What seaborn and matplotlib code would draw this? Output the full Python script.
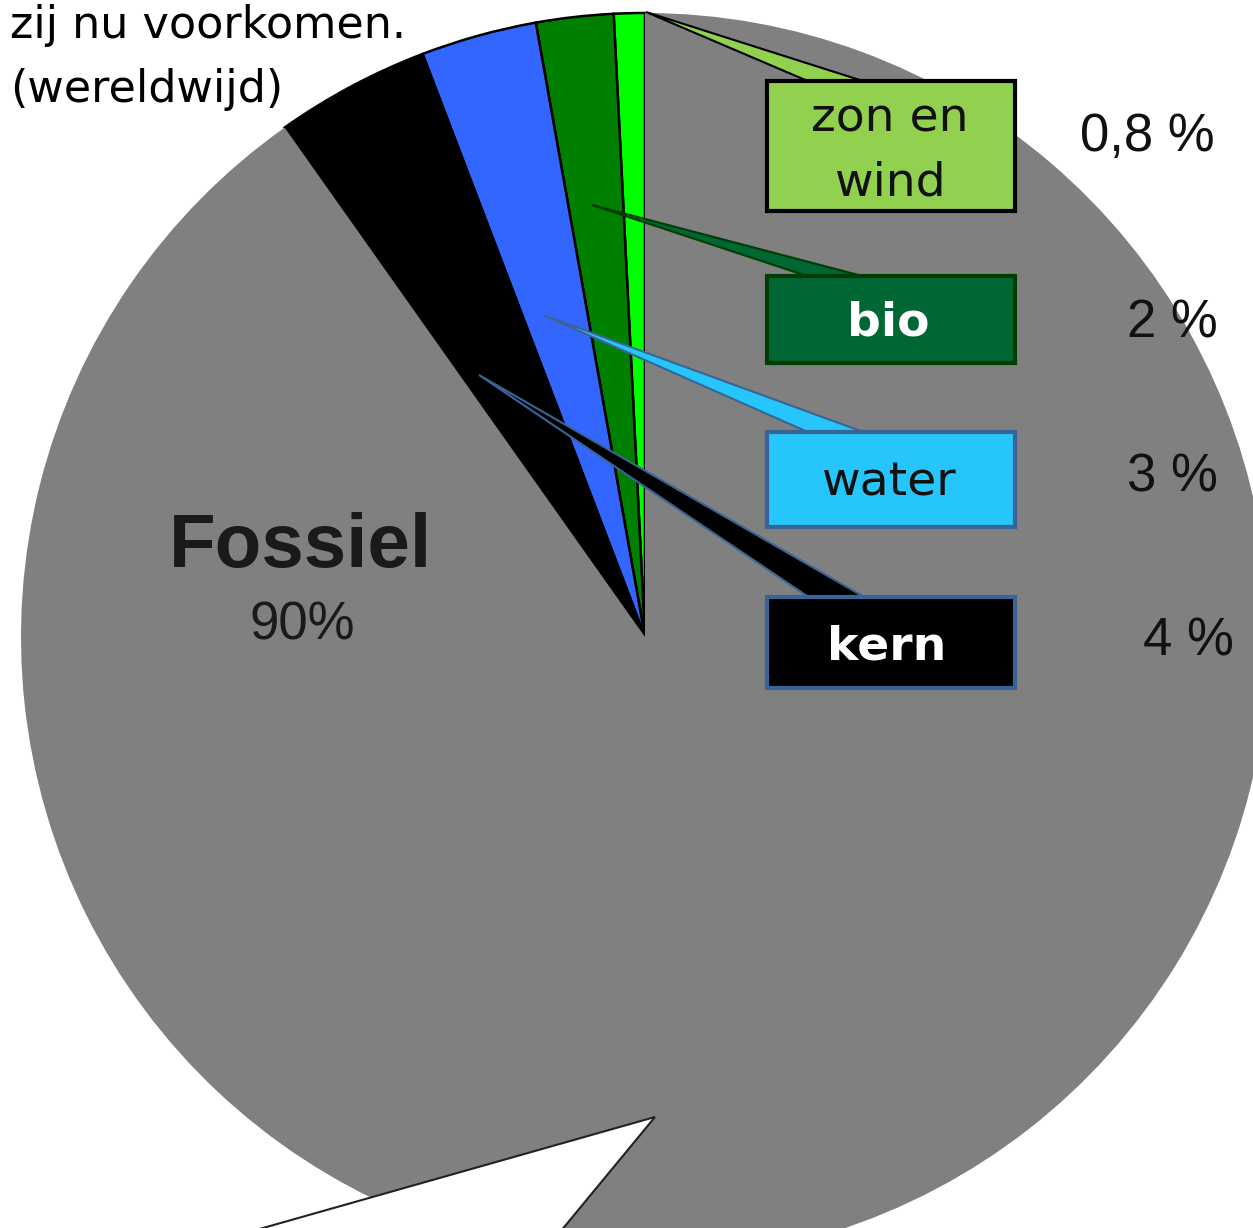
import matplotlib
matplotlib.use("Agg")
import matplotlib.pyplot as plt
from matplotlib.patches import Polygon, Rectangle
import seaborn as sns

# Data: energy sources (share of world energy use, %)
labels = ["zon en wind", "bio", "water", "kern", "Fossiel"]
values = [0.8, 2, 3, 4, 90.2]
pct_labels = ["0,8 %", "2 %", "3 %", "4 %"]
colors = ["#00FF00", "#008000", "#3366FF", "#000000", "#808080"]

# label boxes: fill, edge, text colour
box_fill = ["#92D050", "#006633", "#26C6FC", "#000000"]
box_edge = ["#000000", "#003D00", "#3A6496", "#3A6496"]
box_text = ["#111111", "#FFFFFF", "#111111", "#FFFFFF"]

sns.set_style("white")
plt.rcParams['font.family'] = ['DejaVu Sans']

W, H = 1253, 1228
fig = plt.figure(figsize=(W / 100, H / 100), dpi=100)
ax = fig.add_axes([0, 0, 1, 1])


def Y(y):
    # convert picture y (top down) to data y (bottom up)
    return H - y


wedges, _ = ax.pie(values, colors=colors, startangle=90, counterclock=True,
                   center=(645, Y(637)), radius=624,
                   wedgeprops=dict(edgecolor="black", linewidth=1.8))
wedges[-1].set_edgecolor("none")
ax.set_xlim(0, W)
ax.set_ylim(0, H)
ax.set_aspect("auto")
ax.axis("off")

# callout boxes with tapered leaders
box_top = [81, 276, 432, 597]
box_bot = [211, 363, 527, 688]
tips = [(646, 12), (592, 205), (543, 315), (479, 375)]
bx0, bx1 = 767, 1015
for i in range(4):
    t = box_top[i]
    leader = Polygon([(tips[i][0], Y(tips[i][1])), (810, Y(t + 1)), (866, Y(t + 1))],
                     closed=True, facecolor=box_fill[i], edgecolor=box_edge[i],
                     linewidth=1.5, zorder=3)
    ax.add_patch(leader)
    rect = Rectangle((bx0, Y(box_bot[i])), bx1 - bx0, box_bot[i] - t,
                     facecolor=box_fill[i], edgecolor=box_edge[i], linewidth=3, zorder=4)
    ax.add_patch(rect)

# box texts
ax.text(890, Y(132), "zon en", ha="center", va="baseline", fontsize=34,
        color=box_text[0], zorder=5)
ax.text(890, Y(195), "wind", ha="center", va="baseline", fontsize=34,
        color=box_text[0], zorder=5)
ax.text(888, Y(335), labels[1], ha="center", va="baseline", fontsize=34,
        color=box_text[1], fontweight="bold", zorder=5)
ax.text(888, Y(495), labels[2], ha="center", va="baseline", fontsize=34,
        color=box_text[2], zorder=5)
ax.text(887, Y(660), labels[3], ha="center", va="baseline", fontsize=34,
        color=box_text[3], fontweight="bold", zorder=5)

# percentages on the right
narrow = ['DejaVu Sans Condensed', 'Liberation Sans Narrow', 'Liberation Sans', 'DejaVu Sans']
pct_xy = [(1147, 137), (1172, 324), (1172, 477), (1188, 641)]
for lab, (x, y) in zip(pct_labels, pct_xy):
    ax.text(x, Y(y), lab, ha="center", va="center", fontsize=38,
            family=narrow, color="#111111", zorder=5)

# fossil label
ax.text(300, Y(548), labels[4], ha="center", va="center", fontsize=55,
        fontweight="bold", family=['Liberation Sans', 'DejaVu Sans'],
        color="#1a1a1a", zorder=5)
ax.text(302, Y(625), f"{round(values[4])}%", ha="center", va="center",
        fontsize=38, family=narrow, color="#1a1a1a", zorder=5)

# white speech-bubble tail at the bottom
tail = Polygon([(655, Y(1117)), (150, Y(1260)), (537, Y(1260))], closed=True,
               facecolor="white", edgecolor="#222222", linewidth=1.5, zorder=2)
ax.add_patch(tail)

# title fragment top left
ax.text(10, Y(38), "zij nu voorkomen.", ha="left", va="baseline", fontsize=32,
        color="black", zorder=5)
ax.text(10, Y(102), "(wereldwijd)", ha="left", va="baseline", fontsize=32,
        color="black", zorder=5)

fig.savefig("out.png", dpi=100)
